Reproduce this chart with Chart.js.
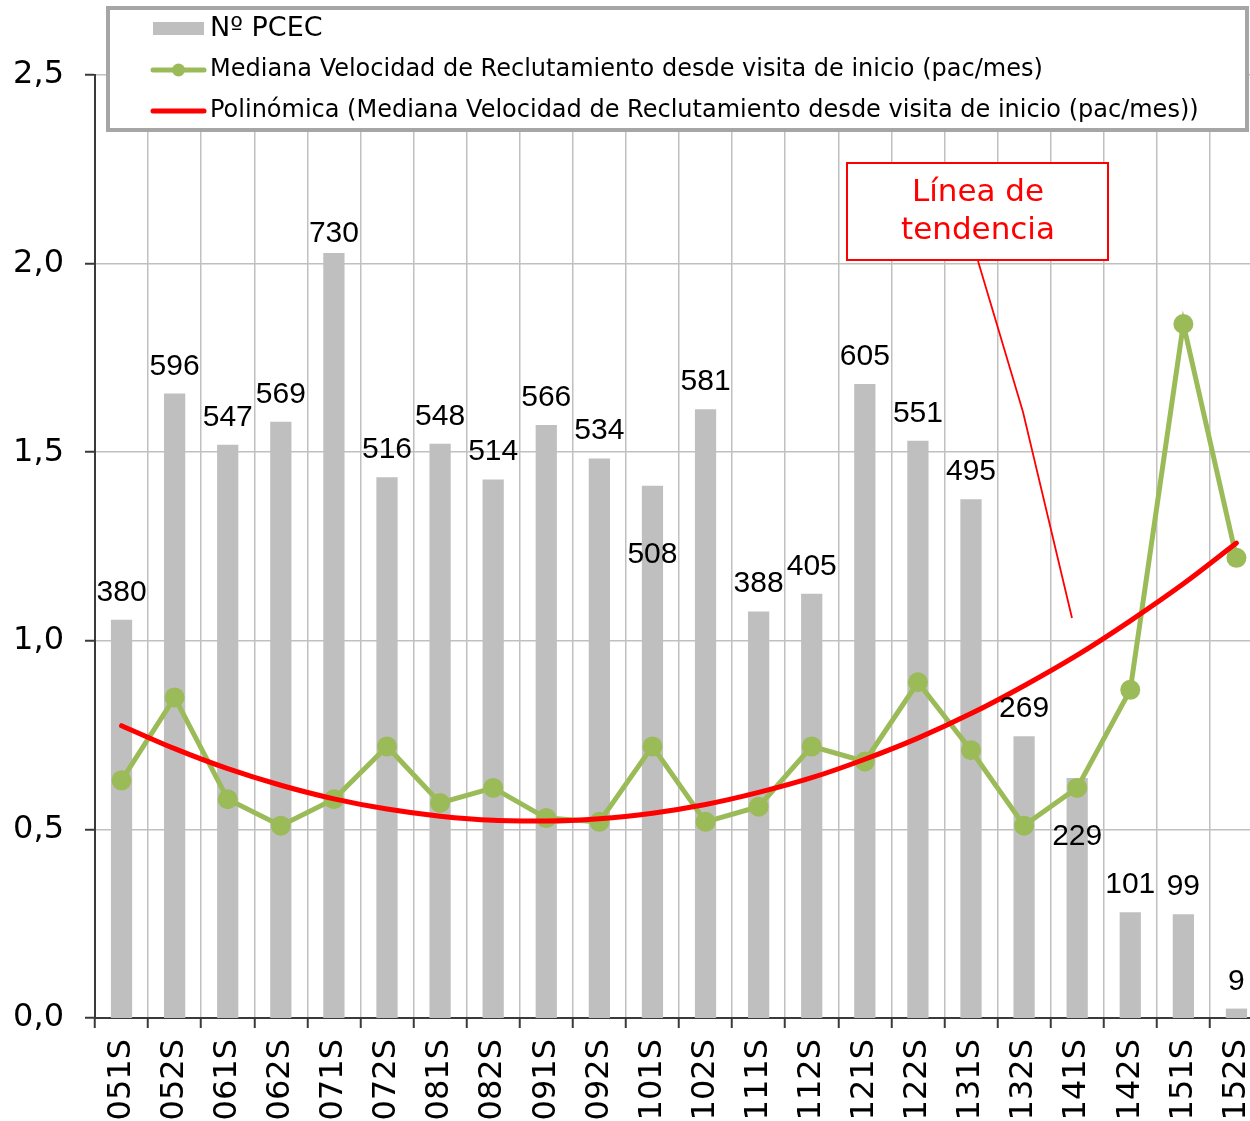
<!DOCTYPE html>
<html>
<head>
<meta charset="utf-8">
<script src="https://cdn.jsdelivr.net/npm/chart.js@4.4.0/dist/chart.umd.min.js"></script>
<style>
  html, body { margin: 0; padding: 0; background: #fff; overflow: hidden; width: 1250px; height: 1121px; }
  canvas { display: block; }
</style>
</head>
<body>
<canvas id="chart" width="1270" height="1121"></canvas>
<script>
// Semesters
const categories = ['051S','052S','061S','062S','071S','072S','081S','082S','091S','092S','101S',
                    '102S','111S','112S','121S','122S','131S','132S','141S','142S','151S','152S'];
// Nº PCEC per semester
const pcecCounts = [380, 596, 547, 569, 730, 516, 548, 514, 566, 534, 508,
                    581, 388, 405, 605, 551, 495, 269, 229, 101, 99, 9];
// Median recruitment rate since start visit (pac/mes)
const medianRate = [0.63, 0.85, 0.58, 0.51, 0.58, 0.72, 0.57, 0.61, 0.53, 0.52, 0.72,
                    0.52, 0.56, 0.72, 0.68, 0.89, 0.71, 0.51, 0.61, 0.87, 1.84, 1.22];
// Polynomial trend of the median rate
const trendRate = [0.775, 0.714, 0.661, 0.617, 0.581, 0.554, 0.535, 0.524, 0.522, 0.528, 0.543,
                   0.566, 0.598, 0.637, 0.686, 0.742, 0.807, 0.881, 0.962, 1.053, 1.151, 1.259];
// Left axis ticks
const rateTicks = [0, 0.5, 1.0, 1.5, 2.0, 2.5];
// Hidden count axis range
const countMax = 900;

const legendLabels = [
  'Nº PCEC',
  'Mediana Velocidad de Reclutamiento desde visita de inicio (pac/mes)',
  'Polinómica (Mediana Velocidad de Reclutamiento desde visita de inicio (pac/mes))'
];

const GRID = '#c0c0c0';
const AXIS = '#3a3a3a';
const BAR = '#bfbfbf';
const GREEN = '#9bbb59';
const RED = '#ff0000';

// Vertical nudges for counts that sit away from the bar top
const labelNudge = { 4: 8, 10: 96, 18: 86 };

const countLabels = {
  id: 'countLabels',
  afterDatasetsDraw(chart) {
    const meta = chart.getDatasetMeta(0);
    const ctx = chart.ctx;
    ctx.save();
    ctx.font = '30px "Liberation Sans", Arial, sans-serif';
    ctx.fillStyle = '#000';
    ctx.textAlign = 'center';
    ctx.textBaseline = 'alphabetic';
    meta.data.forEach((bar, i) => {
      const dy = labelNudge[i] || 0;
      ctx.fillText(String(pcecCounts[i]), bar.x, bar.y - 19 + dy);
    });
    ctx.restore();
  }
};

const decorations = {
  id: 'decorations',
  afterDraw(chart) {
    const ctx = chart.ctx;
    ctx.save();

    // Legend frame
    ctx.fillStyle = '#fff';
    ctx.fillRect(108, 8, 1139, 122);
    ctx.strokeStyle = '#a6a6a6';
    ctx.lineWidth = 4;
    ctx.strokeRect(108, 8, 1139, 122);

    // Legend swatches
    ctx.fillStyle = BAR;
    ctx.fillRect(153, 22, 51, 13);

    ctx.strokeStyle = GREEN;
    ctx.lineWidth = 5;
    ctx.lineCap = 'round';
    ctx.beginPath(); ctx.moveTo(153, 70); ctx.lineTo(204, 70); ctx.stroke();
    ctx.fillStyle = GREEN;
    ctx.beginPath(); ctx.arc(178.5, 70, 6.5, 0, Math.PI * 2); ctx.fill();

    ctx.strokeStyle = RED;
    ctx.beginPath(); ctx.moveTo(153, 111); ctx.lineTo(204, 111); ctx.stroke();

    // Legend text
    ctx.fillStyle = '#000';
    ctx.textAlign = 'left';
    ctx.textBaseline = 'middle';
    ctx.font = '27px "DejaVu Sans", Verdana, sans-serif';
    ctx.fillText(legendLabels[0], 210, 29);
    ctx.font = '24px "DejaVu Sans", Verdana, sans-serif';
    ctx.fillText(legendLabels[1], 210, 70);
    ctx.fillText(legendLabels[2], 210, 111);

    // Trend-line callout
    ctx.strokeStyle = RED;
    ctx.lineWidth = 1.8;
    ctx.lineCap = 'butt';
    ctx.beginPath();
    ctx.moveTo(978, 261);
    ctx.lineTo(1023, 412);
    ctx.lineTo(1072, 618);
    ctx.stroke();

    ctx.fillStyle = '#fff';
    ctx.fillRect(847, 163, 261, 97);
    ctx.lineWidth = 2;
    ctx.strokeRect(847, 163, 261, 97);

    ctx.fillStyle = RED;
    ctx.textAlign = 'center';
    ctx.font = '31px "DejaVu Sans", Verdana, sans-serif';
    ctx.fillText('Línea de', 978, 193);
    ctx.fillText('tendencia', 978, 231);

    ctx.restore();
  }
};

new Chart(document.getElementById('chart'), {
  data: {
    labels: categories,
    datasets: [
      {
        type: 'bar',
        label: legendLabels[0],
        data: pcecCounts,
        yAxisID: 'y2',
        backgroundColor: BAR,
        barPercentage: 0.4,
        categoryPercentage: 1.0,
        order: 3
      },
      {
        type: 'line',
        label: legendLabels[1],
        data: medianRate,
        yAxisID: 'y',
        borderColor: GREEN,
        borderWidth: 5,
        pointRadius: 10,
        pointBackgroundColor: GREEN,
        pointBorderWidth: 0,
        tension: 0,
        order: 2
      },
      {
        type: 'line',
        label: legendLabels[2],
        data: trendRate,
        yAxisID: 'y',
        borderColor: RED,
        borderWidth: 5,
        pointRadius: 0,
        cubicInterpolationMode: 'monotone',
        borderCapStyle: 'round',
        order: 1
      }
    ]
  },
  options: {
    responsive: false,
    animation: false,
    devicePixelRatio: 1,
    layout: { autoPadding: false, padding: { top: 75, right: 7, left: 0, bottom: 0 } },
    plugins: {
      legend: { display: false },
      tooltip: { enabled: false }
    },
    scales: {
      x: {
        offset: true,
        grid: {
          offset: true,
          color: GRID,
          lineWidth: 1.5,
          tickLength: 10,
          tickColor: AXIS,
          tickWidth: 2
        },
        border: { color: AXIS, width: 2 },
        ticks: {
          font: { family: '"DejaVu Sans", Verdana, sans-serif', size: 32 },
          color: '#000',
          minRotation: 90,
          maxRotation: 90,
          padding: 11,
          autoSkip: false
        },
        afterFit(s) { s.height = 103; s.paddingLeft = 0; s.paddingRight = 0; }
      },
      y: {
        position: 'left',
        min: 0,
        max: 2.5,
        afterBuildTicks(s) { s.ticks = rateTicks.map(v => ({ value: v })); },
        grid: {
          color: GRID,
          lineWidth: 1.5,
          tickLength: 10,
          tickColor: AXIS,
          tickWidth: 2
        },
        border: { color: AXIS, width: 2 },
        ticks: {
          font: { family: '"DejaVu Sans", Verdana, sans-serif', size: 32 },
          color: '#000',
          padding: 21,
          callback: v => Number(v).toFixed(1).replace('.', ',')
        },
        afterFit(s) { s.width = 95; }
      },
      y2: {
        display: false,
        min: 0,
        max: countMax
      }
    }
  },
  plugins: [countLabels, decorations]
});
</script>
</body>
</html>
